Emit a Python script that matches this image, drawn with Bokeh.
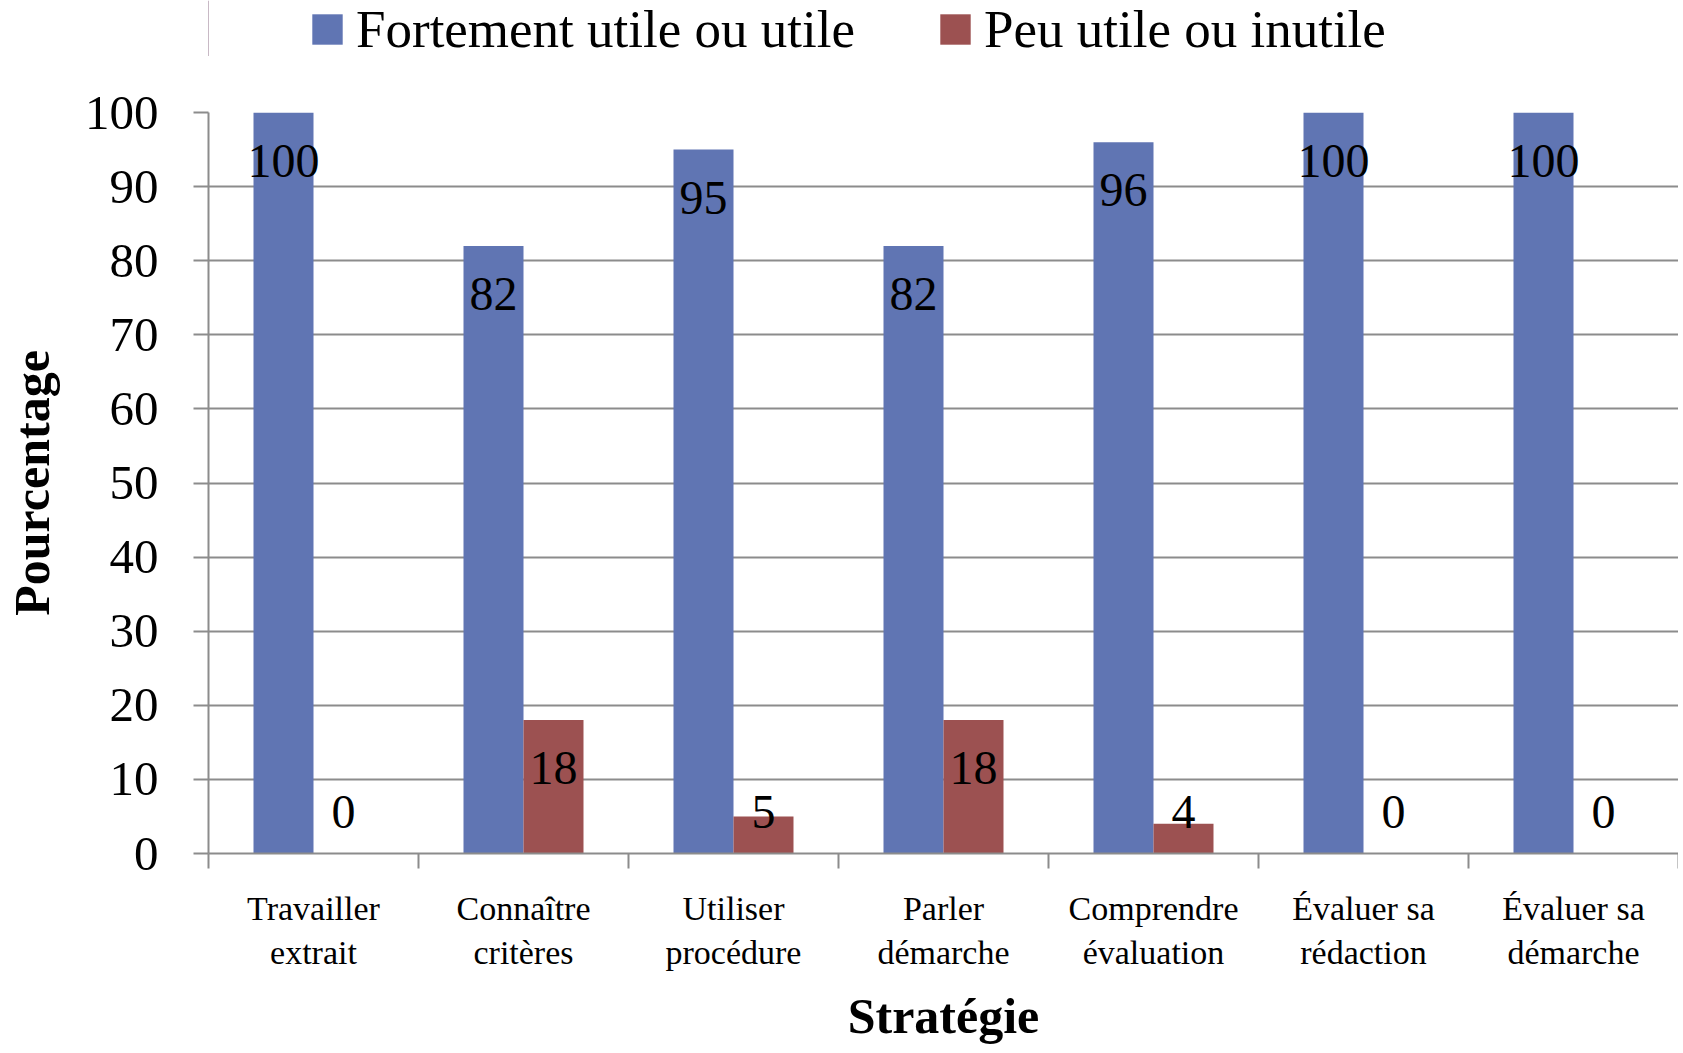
from bokeh.plotting import figure
from bokeh.layouts import column
from bokeh.models import (Range1d, LinearAxis, FixedTicker, Legend,
                          LegendItem, ColumnDataSource)
from bokeh.transform import dodge
from bokeh.core.properties import value
from bokeh.embed import file_html
from bokeh.resources import INLINE

categories = ["Travailler\nextrait", "Connaître\ncritères", "Utiliser\nprocédure",
              "Parler\ndémarche", "Comprendre\névaluation", "Évaluer sa\nrédaction",
              "Évaluer sa\ndémarche"]
utile = [100, 82, 95, 82, 96, 100, 100]
inutile = [0, 18, 5, 18, 4, 0, 0]
series_names = ["Fortement utile ou utile", "Peu utile ou inutile"]
y_ticks = [0, 10, 20, 30, 40, 50, 60, 70, 80, 90, 100]
x_title = "Stratégie"
y_title = "Pourcentage"

BLUE = "#6075B3"
RED = "#9C5151"
GRID = "#8c8c8c"
FONT = "Liberation Serif"

W = 1678
H_LEG = 56
H_MAIN = 997
n = len(categories)
centers = [i + 0.5 for i in range(n)]

def label_y(v):
    return max(v - 6.5, 5.6)

src = ColumnDataSource(dict(
    xc=centers,
    utile=utile,
    inutile=inutile,
    utile_txt=[str(v) for v in utile],
    inutile_txt=[str(v) for v in inutile],
    utile_y=[label_y(v) for v in utile],
    inutile_y=[label_y(v) for v in inutile],
))

# ---------------- legend strip ----------------
pl = figure(x_range=Range1d(0, 1), y_range=Range1d(0, 1), width=W, height=H_LEG,
            output_backend="svg", toolbar_location=None,
            x_axis_location=None, y_axis_location=None,
            min_border_left=206, min_border_right=0, min_border_top=0,
            min_border_bottom=0, outline_line_color=None,
            background_fill_color="white", border_fill_color="white")
pl.xgrid.visible = False
pl.ygrid.visible = False
# swatch renderers for the legend, placed outside the visible range
lr1 = pl.vbar(x=[-5], top=[1], width=0.1, fill_color=BLUE, line_color=None)
lr2 = pl.vbar(x=[-5], top=[1], width=0.1, fill_color=RED, line_color=None)
legend = Legend(items=[LegendItem(label=series_names[0], renderers=[lr1]),
                       LegendItem(label=series_names[1], renderers=[lr2])],
                orientation="horizontal", location=(100, -3),
                glyph_width=38, glyph_height=38, label_standoff=10, spacing=81,
                label_text_font=FONT, label_text_font_size="53px",
                label_text_color="black",
                background_fill_alpha=0, border_line_color=None,
                padding=0, margin=0)
pl.add_layout(legend, "center")

# ---------------- main chart ----------------
p = figure(x_range=Range1d(0, n), y_range=Range1d(0, 100),
           width=W, height=H_MAIN, output_backend="svg", toolbar_location=None,
           x_axis_location=None,
           min_border_left=206, min_border_right=0, min_border_top=56,
           min_border_bottom=200, background_fill_color="white",
           border_fill_color="white", outline_line_color=None)

bw = 0.2857
p.vbar(x=dodge("xc", -bw / 2), top="utile", width=bw,
       source=src, fill_color=BLUE, line_color=None)
p.vbar(x=dodge("xc", bw / 2), top="inutile", width=bw,
       source=src, fill_color=RED, line_color=None)

p.text(x=dodge("xc", -bw / 2), y="utile_y", text="utile_txt",
       source=src, text_font=value(FONT), text_font_size="48px",
       text_align="center", text_baseline="middle", text_color="black")
p.text(x=dodge("xc", bw / 2), y="inutile_y", text="inutile_txt",
       source=src, text_font=value(FONT), text_font_size="48px",
       text_align="center", text_baseline="middle", text_color="black")

# grids
p.xgrid.visible = False
p.ygrid.ticker = FixedTicker(ticks=y_ticks)
p.ygrid.grid_line_color = GRID
p.ygrid.grid_line_width = 2

# y axis
ya = p.yaxis[0]
ya.ticker = FixedTicker(ticks=y_ticks)
ya.axis_line_color = GRID
ya.axis_line_width = 2
ya.major_tick_line_color = GRID
ya.major_tick_line_width = 2
ya.major_tick_out = 15
ya.major_tick_in = 0
ya.minor_tick_line_color = None
ya.major_label_text_font = FONT
ya.major_label_text_font_size = "49px"
ya.major_label_text_color = "black"
ya.major_label_standoff = 35
ya.axis_label = y_title
ya.axis_label_text_font = FONT
ya.axis_label_text_font_size = "50px"
ya.axis_label_text_font_style = "bold"
ya.axis_label_text_color = "black"
ya.axis_label_standoff = 22

# boundary ticks axis (nearest the frame): minor ticks only, no labels
ta = LinearAxis(ticker=FixedTicker(ticks=[], minor_ticks=list(range(n + 1))),
                major_tick_line_color=None,
                minor_tick_out=15, minor_tick_in=0,
                minor_tick_line_color=GRID, minor_tick_line_width=2,
                axis_line_color=GRID, axis_line_width=2)
p.add_layout(ta, "below")

# category labels axis with the axis title
xa = LinearAxis(ticker=FixedTicker(ticks=centers),
                major_label_overrides={c: lab for c, lab in zip(centers, categories)},
                axis_line_color=None, major_tick_line_color=None,
                minor_tick_line_color=None,
                major_label_text_font=FONT, major_label_text_font_size="34px",
                major_label_text_color="black", major_label_standoff=15,
                axis_label=x_title, axis_label_text_font=FONT,
                axis_label_text_font_size="50px", axis_label_text_font_style="bold",
                axis_label_text_color="black", axis_label_standoff=14)
p.add_layout(xa, "below")

layout = column(pl, p, spacing=0)
open("out.html", "w").write(file_html(layout, INLINE))
